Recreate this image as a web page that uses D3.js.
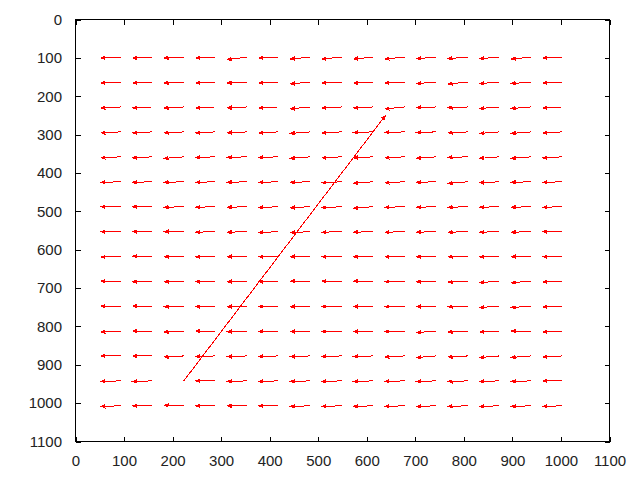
<!DOCTYPE html>
<html>
<head>
<meta charset="utf-8">
<script src="https://cdn.jsdelivr.net/npm/d3@7"></script>
<style>
    html, body { margin: 0; padding: 0; background: #fff; }
    svg { display: block; }
</style>
</head>
<body>
<div id="chart"></div>
<script>
// tick labels on both axes
const xTickValues = [0, 100, 200, 300, 400, 500, 600, 700, 800, 900, 1000, 1100];
const yTickValues = [0, 100, 200, 300, 400, 500, 600, 700, 800, 900, 1000, 1100];

// vector tails (grid columns / rows)
const tailX = [93, 158, 223, 288, 353, 418, 483, 548, 613, 678, 743, 808, 873, 938, 1003];
const tailY = [98, 163, 228, 293, 358, 423, 488, 553, 617, 682, 747, 812, 877, 942, 1007];

// displacement per grid cell, one row per tailY
const vecDx = [
    [-40, -40, -40, -40, -40, -40, -40, -40, -40, -40, -40, -40, -40, -40, -40],
    [-40, -40, -40, -40, -40, -40, -40, -40, -40, -40, -40, -40, -40, -40, -40],
    [-40, -40, -40, -40, -40, -40, -40, -40, -40, -40, -40, -40, -40, -40, -40],
    [-40, -40, -40, -40, -40, -40, -40, -40, -40, -40, -40, -40, -40, -40, -40],
    [-40, -40, -40, -40, -40, -40, -40, -40, -40, -40, -40, -40, -40, -40, -40],
    [-40, -40, -40, -40, -40, -40, -40, -40, -40, -40, -40, -40, -40, -40, -40],
    [-40, -40, -40, -40, -40, -40, -40, -40, -40, -40, -40, -40, -40, -40, -40],
    [-40, -40, -40, -40, -40, -40, -40, -40, -40, -40, -40, -40, -40, -40, -40],
    [-40, -40, -40, -40, -40, -40, -40, -40, -40, -40, -40, -40, -40, -40, -40],
    [-40, -40, -40, -40, -40, -40, -40, -40, -40, -40, -40, -40, -40, -40, -40],
    [-40, -40, -40, -40, -40, -40, -40, -40, -40, -40, -40, -40, -40, -40, -40],
    [-40, -40, -40, -40, -40, -40, -40, -40, -40, -40, -40, -40, -40, -40, -40],
    [-40, -40, -40, -40, -40, -40, -40, -40, -40, -40, -40, -40, -40, -40, -40],
    [-40, -40, 415, -40, -40, -40, -40, -40, -40, -40, -40, -40, -40, -40, -40],
    [-40, -40, -40, -40, -40, -40, -40, -40, -40, -40, -40, -40, -40, -40, -40]
];
const vecDy = [
    [2.5, 2.5, 2.5, 2.5, 6.5, 2.5, 5, 5, 5, 5, 4, 4, 4, 5, 2.5],
    [2.5, 2.5, 2.5, 2.5, 2.5, 2.5, 5, 2.5, 2.5, 2.5, 4, 5, 4, 4, 2.5],
    [2.5, 2.5, 2.5, 2.5, 2.5, 2.5, 5, 2.5, 2.5, 5, 1.5, 1.5, 4, 4, 2.5],
    [2.5, 2.5, 2.5, 2.5, 2.5, 2.5, 4, 2.5, 1.5, 1.5, 1.5, 2.5, 4, 4, 2.5],
    [2.5, 2.5, 4, 1.5, 1.5, 1.5, 4, 2.5, 2.5, 2.5, 4, 1.5, 4, 4, 2.5],
    [1.5, 1.5, 1.5, 1.5, 1.5, 1.5, 1.5, 2.5, 4, 2.5, 1.5, 4, 2.5, 1.5, 1.5],
    [0, 0, 1.5, 1.5, 1.5, 2.5, 2.5, 2.5, 4, 1.5, 1.5, 1.5, 1.5, 1.5, 1.5],
    [0, 0, 0, 1.5, 1.5, 2.5, 2.5, 1.5, 1.5, 1.5, 1.5, 1.5, 1.5, 1.5, 0],
    [2.5, 0, 1.5, 1.5, 1.5, 1.5, 1.5, 1.5, 1.5, 1.5, 1.5, 1.5, 1.5, 1.5, 1.5],
    [0, 1.5, 1.5, 1.5, 1.5, 1.5, 0, 0, 0, 1.5, 1.5, 2.5, 4, 4, 2.5],
    [0, 0, 1.5, 1.5, 1.5, 1.5, 1.5, 1.5, 1.5, 1.5, 1.5, 1.5, 4, 4, 2.5],
    [2.5, 0, 2.5, 0, 1.5, 1.5, 1.5, 1.5, 1.5, 1.5, 4, 2.5, 2.5, 0, 2.5],
    [0, 0, 2.5, 1.5, 1.5, 1.5, 1.5, 1.5, 1.5, 2.5, 4, 2.5, 4, 4, 2.5],
    [1.5, 1.5, -691, 0, 1.5, 1.5, 1.5, 1.5, 1.5, 1.5, 1.5, 1.5, 1.5, 1.5, 0],
    [1.5, 0, -1.5, 0, 0, 0, 1.5, 1.5, 1.5, 1.5, 1.5, 1.5, 1.5, 1.5, 1.5]
];

const width = 640;
const height = 480;

const svg = d3.select("#chart")
    .append("svg")
    .attr("width", width)
    .attr("height", height)
    .style("font-family", "'Liberation Sans', Arial, sans-serif");

svg.append("rect")
    .attr("width", width)
    .attr("height", height)
    .attr("fill", "#fff");

const x = d3.scaleLinear().domain([0, 1100]).range([75.5, 609.5]);
const y = d3.scaleLinear().domain([0, 1100]).range([19.5, 441.5]);

// all vectors, tail -> head
const vectors = [];
tailY.forEach((ty, r) => {
    tailX.forEach((tx, c) => {
        vectors.push({ x0: tx, y0: ty, x1: tx + vecDx[r][c], y1: ty + vecDy[r][c] });
    });
});

const vecGroup = svg.append("g").attr("shape-rendering", "crispEdges");

vecGroup.selectAll(".shaft")
    .data(vectors)
    .join("line")
    .attr("class", "shaft")
    .attr("x1", d => x(d.x0))
    .attr("y1", d => y(d.y0))
    .attr("x2", d => x(d.x1))
    .attr("y2", d => y(d.y1))
    .attr("stroke", "#ff0000")
    .attr("stroke-width", 1);

// small filled heads at the end of each vector
const headLen = 4;
const headAng = 22 * Math.PI / 180;
vecGroup.selectAll(".head")
    .data(vectors)
    .join("path")
    .attr("class", "head")
    .attr("d", d => {
        const hx = x(d.x1), hy = y(d.y1);
        const a = Math.atan2(y(d.y0) - hy, x(d.x0) - hx);
        const p1 = [hx + headLen * Math.cos(a + headAng), hy + headLen * Math.sin(a + headAng)];
        const p2 = [hx + headLen * Math.cos(a - headAng), hy + headLen * Math.sin(a - headAng)];
        return `M${p1[0]},${p1[1]}L${hx},${hy}L${p2[0]},${p2[1]}Z`;
    })
    .attr("fill", "#ff0000")
    .attr("stroke", "#ff0000")
    .attr("stroke-width", 1);

// axes, ticks pointing inwards on all four sides
function styleAxis(g) {
    g.select(".domain").remove();
    g.selectAll(".tick line").attr("stroke", "#000").attr("shape-rendering", "crispEdges");
    g.selectAll(".tick text").attr("fill", "#222").attr("font-size", "15px")
        .attr("font-family", "'Liberation Sans', Arial, sans-serif");
}

svg.append("g")
    .attr("transform", `translate(0,${y(1100)})`)
    .call(d3.axisBottom(x).tickValues(xTickValues).tickSize(-5).tickPadding(13.5).tickFormat(d3.format("d")))
    .call(styleAxis);

svg.append("g")
    .attr("transform", `translate(0,${y(0)})`)
    .call(d3.axisTop(x).tickValues(xTickValues).tickSize(-5).tickFormat(""))
    .call(styleAxis);

svg.append("g")
    .attr("transform", `translate(${x(0)},0)`)
    .call(d3.axisLeft(y).tickValues(yTickValues).tickSize(-5).tickPadding(13.5).tickFormat(d3.format("d")))
    .call(styleAxis);

svg.append("g")
    .attr("transform", `translate(${x(1100)},0)`)
    .call(d3.axisRight(y).tickValues(yTickValues).tickSize(-5).tickFormat(""))
    .call(styleAxis);

// plot frame
svg.append("rect")
    .attr("x", x(0))
    .attr("y", y(0))
    .attr("width", x(1100) - x(0))
    .attr("height", y(1100) - y(0))
    .attr("fill", "none")
    .attr("stroke", "#000")
    .attr("shape-rendering", "crispEdges");
</script>
</body>
</html>
